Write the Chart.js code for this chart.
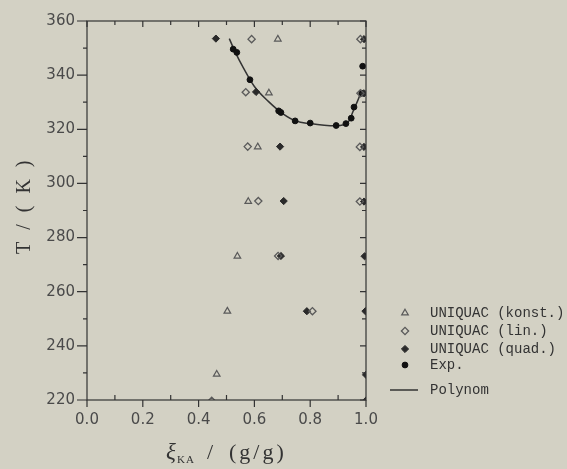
<!DOCTYPE html>
<html>
<head>
<meta charset="utf-8">
<script src="https://cdn.jsdelivr.net/npm/chart.js@4.4.1/dist/chart.umd.min.js"></script>
<style>
  html, body { margin: 0; padding: 0; background: #d3d1c4; }
  canvas { display: block; }
</style>
</head>
<body>
<canvas id="chart" width="567" height="469"></canvas>
<script>
// values
const konstX = [0.684, 0.652, 0.612, 0.578, 0.539, 0.503, 0.465];
const konstT = [353.3, 333.4, 313.5, 293.3, 273.1, 252.8, 229.5];

const linX = [0.590, 0.569, 0.576, 0.614, 0.685, 0.808, 0.447, 0.980, 0.980, 0.978, 0.978];
const linT = [353.3, 333.7, 313.6, 293.5, 273.2, 252.8, 219.7, 353.3, 333.3, 313.5, 293.3];

const quadX = [0.462, 0.606, 0.692, 0.705, 0.695, 0.788, 0.993, 0.993, 0.993, 0.993, 0.995, 0.998, 1.0, 1.0];
const quadT = [353.5, 333.8, 313.6, 293.5, 273.2, 252.8, 353.3, 333.3, 313.5, 293.3, 273.1, 252.8, 229.3, 219.8];

const expX = [0.524, 0.537, 0.584, 0.687, 0.695, 0.746, 0.800, 0.893, 0.928, 0.947, 0.957, 0.985, 0.988];
const expT = [349.6, 348.4, 338.3, 326.8, 326.2, 323.1, 322.3, 321.4, 322.1, 324.1, 328.2, 333.3, 343.3];

const polyX = [0.51, 0.53, 0.56, 0.60, 0.65, 0.70, 0.75, 0.80, 0.85, 0.89, 0.92, 0.94, 0.955, 0.97, 0.985];
const polyT = [353.5, 348.8, 342.8, 335.8, 330.3, 325.9, 323.0, 322.1, 321.5, 321.3, 321.7, 323.2, 327.0, 330.5, 334.5];

const legendLabels = ['UNIQUAC (konst.)', 'UNIQUAC (lin.)', 'UNIQUAC (quad.)', 'Exp.', 'Polynom'];

const pts = (xs, ys) => xs.map((x, i) => ({ x: x, y: ys[i] }));

const ink = '#2a2a2a';
const grey = '#5a5a5a';

// background colour of the scanned page
const bgPlugin = {
    id: 'bg',
    beforeDraw(chart) {
        const ctx = chart.ctx;
        ctx.save();
        ctx.fillStyle = '#d3d1c4';
        ctx.fillRect(0, 0, chart.width, chart.height);
        ctx.restore();
    }
};

// frame with inward / outward ticks, titles and the legend
const framePlugin = {
    id: 'frame',
    afterDraw(chart) {
        const ctx = chart.ctx;
        const a = chart.chartArea;
        const xs = chart.scales.x;
        const ys = chart.scales.y;
        ctx.save();
        ctx.strokeStyle = '#333';
        ctx.lineWidth = 1.2;
        ctx.strokeRect(a.left, a.top, a.right - a.left, a.bottom - a.top);

        ctx.beginPath();
        for (let v = 0; v <= 1.0001; v += 0.1) {
            const px = xs.getPixelForValue(v);
            const major = Math.round(v * 10) % 2 === 0;
            if (major) {
                ctx.moveTo(px, a.bottom); ctx.lineTo(px, a.bottom + 7);
                ctx.moveTo(px, a.top); ctx.lineTo(px, a.top + 6);
            } else {
                ctx.moveTo(px, a.bottom); ctx.lineTo(px, a.bottom - 5);
                ctx.moveTo(px, a.top); ctx.lineTo(px, a.top + 4);
            }
        }
        for (let t = 220; t <= 360; t += 10) {
            const py = ys.getPixelForValue(t);
            const major = t % 20 === 0;
            ctx.moveTo(a.left - (major ? 10 : 4), py); ctx.lineTo(a.left, py);
            ctx.moveTo(a.right, py); ctx.lineTo(a.right - (major ? 6 : 4), py);
        }
        ctx.stroke();

        // axis titles
        ctx.fillStyle = '#333';
        ctx.font = '20px "Liberation Serif"';
        ctx.letterSpacing = '3.5px';
        ctx.textAlign = 'center';
        ctx.textBaseline = 'middle';
        ctx.save();
        ctx.translate(25, (a.top + a.bottom) / 2 - 5);
        ctx.rotate(-Math.PI / 2);
        ctx.fillText('T / ( K )', 0, 0);
        ctx.restore();

        ctx.textAlign = 'left';
        ctx.textBaseline = 'alphabetic';
        const base = 459;
        ctx.letterSpacing = '0px';
        ctx.font = 'italic 23px "Liberation Serif"';
        ctx.fillText('ξ', 166, base);
        ctx.font = '11px "Liberation Serif"';
        ctx.letterSpacing = '1px';
        ctx.fillText('KA', 177, base + 4);
        ctx.font = '22px "Liberation Serif"';
        ctx.letterSpacing = '0px';
        ctx.fillText('/', 207, base);
        ctx.letterSpacing = '3px';
        ctx.fillText('(g/g)', 229, base);
        ctx.letterSpacing = '0px';

        // legend
        const lx = 405, tx = 430;
        const rows = [313, 331, 349, 365, 390];
        ctx.font = '14px "Liberation Mono"';
        ctx.textBaseline = 'middle';
        const ds = chart.data.datasets;
        rows.forEach((ry, i) => {
            const d = ds[i];
            if (i < 4) {
                ctx.save();
                ctx.lineWidth = d.borderWidth;
                ctx.strokeStyle = d.borderColor;
                ctx.fillStyle = d.backgroundColor;
                Chart.helpers.drawPoint(ctx, { pointStyle: d.pointStyle, radius: d.pointRadius, borderWidth: d.borderWidth }, lx, ry);
                ctx.restore();
            } else {
                ctx.beginPath();
                ctx.lineWidth = 1.5;
                ctx.strokeStyle = d.borderColor;
                ctx.moveTo(390, ry); ctx.lineTo(418, ry);
                ctx.stroke();
            }
            ctx.fillStyle = '#333';
            ctx.fillText(legendLabels[i], tx, ry);
        });
        ctx.restore();
    }
};

new Chart(document.getElementById('chart'), {
    type: 'scatter',
    data: {
        datasets: [
            {
                label: legendLabels[0],
                data: pts(konstX, konstT),
                pointStyle: 'triangle',
                pointRadius: 3.8,
                borderWidth: 1.2,
                borderColor: grey,
                backgroundColor: 'rgba(0,0,0,0)'
            },
            {
                label: legendLabels[1],
                data: pts(linX, linT),
                pointStyle: 'rectRot',
                pointRadius: 3.6,
                borderWidth: 1.3,
                borderColor: grey,
                backgroundColor: 'rgba(0,0,0,0)'
            },
            {
                label: legendLabels[2],
                data: pts(quadX, quadT),
                pointStyle: 'rectRot',
                pointRadius: 3.6,
                borderWidth: 1,
                borderColor: ink,
                backgroundColor: ink
            },
            {
                label: legendLabels[3],
                data: pts(expX, expT),
                pointStyle: 'circle',
                pointRadius: 2.9,
                borderWidth: 1,
                borderColor: '#111',
                backgroundColor: '#111'
            },
            {
                type: 'line',
                label: legendLabels[4],
                data: pts(polyX, polyT),
                showLine: true,
                pointRadius: 0,
                borderColor: '#333',
                borderWidth: 1.5,
                cubicInterpolationMode: 'monotone',
                fill: false
            }
        ]
    },
    options: {
        responsive: false,
        animation: false,
        devicePixelRatio: 1,
        layout: { padding: { top: 15, right: 201, left: 0, bottom: 0 } },
        plugins: {
            legend: { display: false },
            tooltip: { enabled: false }
        },
        scales: {
            x: {
                type: 'linear',
                min: 0,
                max: 1,
                grid: { display: false, drawTicks: false },
                border: { display: false },
                ticks: {
                    stepSize: 0.2,
                    padding: 11,
                    color: '#4a4a4a',
                    font: { family: 'DejaVu Sans', size: 15 },
                    maxRotation: 0,
                    callback: v => v.toFixed(1)
                },
                afterFit: s => { s.height = 69; }
            },
            y: {
                type: 'linear',
                min: 220,
                max: 360,
                grid: { display: false, drawTicks: false },
                border: { display: false },
                ticks: {
                    stepSize: 20,
                    padding: 12,
                    color: '#4a4a4a',
                    font: { family: 'DejaVu Sans', size: 15 }
                },
                afterFit: s => { s.width = 87; }
            }
        }
    },
    plugins: [bgPlugin, framePlugin]
});
</script>
</body>
</html>
